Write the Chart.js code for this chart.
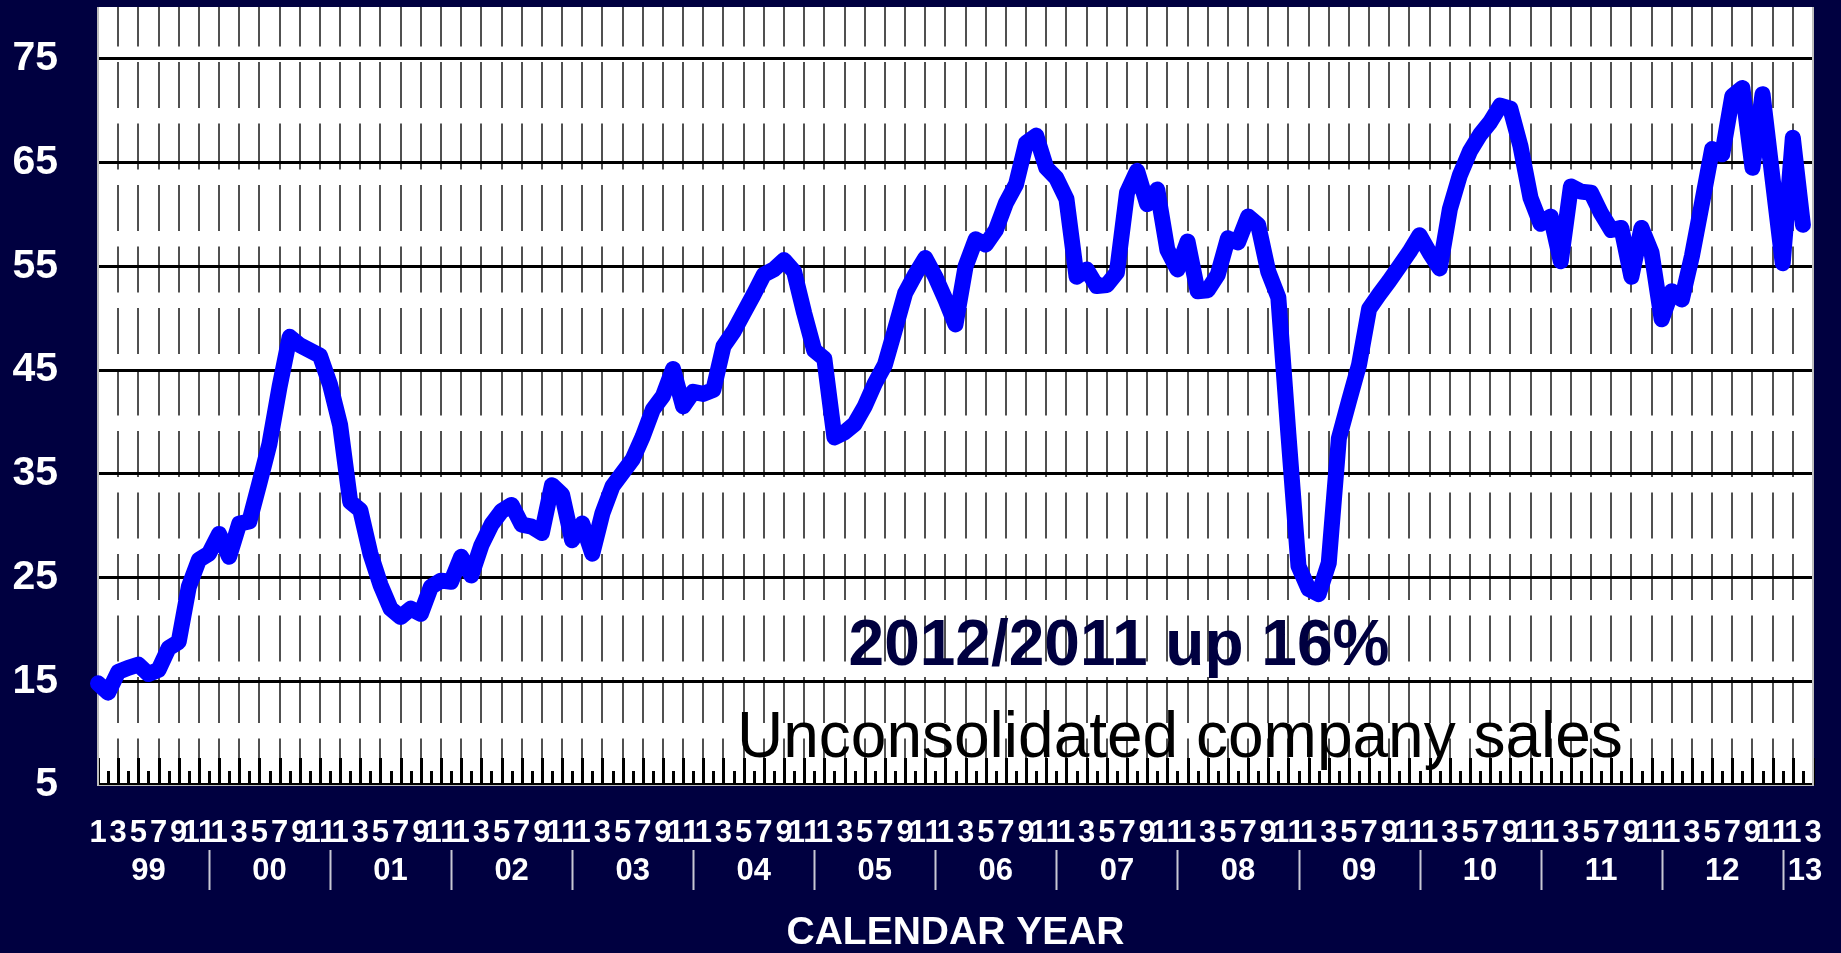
<!DOCTYPE html>
<html>
<head>
<meta charset="utf-8">
<script src="https://cdn.jsdelivr.net/npm/chart.js@4.4.1/dist/chart.umd.min.js"></script>
<style>
html,body{margin:0;padding:0;background:#000040;overflow:hidden}
#wrap{position:relative;width:1841px;height:953px}
canvas{display:block}
</style>
</head>
<body>
<div id="wrap"><canvas id="c" width="1841" height="953"></canvas></div>
<script>
// ---- data ----
const years = ['99','00','01','02','03','04','05','06','07','08','09','10','11','12','13'];
const monthsInYear = [12,12,12,12,12,12,12,12,12,12,12,12,12,12,3];
const yTicks = [5,15,25,35,45,55,65,75];
const sales = [
  14.8,13.9,15.9,16.3,16.6,15.7,16.1,18.2,18.8,24.1,26.7,27.3,   // 1999
  29.2,27.0,30.2,30.4,34.1,37.9,43.4,48.2,47.4,46.9,46.4,43.6,   // 2000
  39.7,32.3,31.5,27.3,24.3,22.0,21.2,22.0,21.5,24.1,24.7,24.6,   // 2001
  27.0,25.2,28.1,30.1,31.4,32.0,30.1,29.9,29.3,33.9,33.0,28.6,   // 2002
  30.2,27.3,31.2,33.8,35.1,36.4,38.6,41.2,42.5,45.1,41.5,42.9,   // 2003
  42.7,43.1,47.3,48.7,50.5,52.3,54.2,54.7,55.6,54.5,50.5,46.9,   // 2004
  46.1,38.5,39.0,39.8,41.5,43.7,45.5,48.9,52.4,54.2,55.8,54.0,   // 2005
  51.8,49.4,55.0,57.6,57.1,58.5,61.1,62.9,66.9,67.6,64.5,63.5,   // 2006
  61.5,54.0,54.7,53.1,53.2,54.4,62.1,64.2,61.0,62.4,56.6,54.7,   // 2007
  57.4,52.6,52.7,54.2,57.7,57.3,59.8,59.0,54.5,52.0,38.8,26.1,   // 2008
  23.9,23.4,26.4,38.4,42.0,45.5,50.9,52.3,53.6,55.0,56.4,58.0,   // 2009
  56.3,54.8,60.5,63.8,66.1,67.7,68.9,70.5,70.2,66.6,61.6,59.1,   // 2010
  59.8,55.5,62.7,62.2,62.1,60.1,58.5,58.7,54.0,58.7,56.3,49.9,   // 2011
  52.6,51.8,56.0,61.1,66.3,65.8,71.4,72.2,64.5,71.6,63.4,55.3,   // 2012
  67.4,59.0                                                      // 2013
];
const headline = '2012/2011 up 16%';
const note = 'Unconsolidated company sales';
const axisTitle = 'CALENDAR YEAR';

// ---- derived categories ----
const categories = [];
const monthOf = [];
years.forEach((y, k) => {
  for (let m = 1; m <= monthsInYear[k]; m++) { categories.push(y + '-' + m); monthOf.push(m); }
});

const NAVY = '#000040';
const FONT = "'Liberation Sans', Arial, sans-serif";

const decor = {
  id: 'decor',
  beforeDraw(chart) {
    const {ctx, chartArea: a} = chart;
    ctx.save();
    ctx.fillStyle = NAVY;
    ctx.fillRect(0, 0, chart.width, chart.height);
    ctx.fillStyle = '#ffffff';
    ctx.fillRect(a.left, a.top, a.right - a.left, a.bottom - a.top);
    ctx.restore();
  },
  beforeDatasetsDraw(chart) {
    const {ctx, chartArea: a, scales: {x}} = chart;
    ctx.save();
    ctx.fillStyle = '#000000';
    for (let i = 0; i < categories.length; i++) {
      const px = x.getPixelForValue(i);
      const h = (i % 2 === 0) ? 27 : 14;
      ctx.fillRect(Math.round(px) - 1, a.bottom - h, 3, h);
    }
    ctx.fillRect(a.left, a.bottom - 2, a.right - a.left, 2);
    // frame
    ctx.fillStyle = '#bdbdbd';
    ctx.fillRect(a.left - 1, a.top, 2, a.bottom - a.top + 1);
    ctx.fillRect(a.right - 1, a.top, 2, a.bottom - a.top + 1);
    ctx.fillRect(a.left - 1, a.bottom, a.right - a.left + 2, 1);
    ctx.restore();
  },
  afterDraw(chart) {
    const {ctx, scales: {x}} = chart;
    ctx.save();
    // annotations
    ctx.textBaseline = 'alphabetic';
    ctx.textAlign = 'center';
    ctx.fillStyle = NAVY;
    ctx.font = 'bold 64px ' + FONT;
    ctx.fillText(headline, 1119, 665);
    ctx.textAlign = 'left';
    ctx.fillStyle = '#000000';
    ctx.font = '64px ' + FONT;
    ctx.fillText(note, 737, 757);
    // year separators and labels
    ctx.strokeStyle = '#c8c8d4';
    ctx.lineWidth = 2;
    let start = 0;
    const sepIdx = [];
    years.forEach((y, k) => {
      const end = start + monthsInYear[k] - 1;
      if (k < years.length - 1) sepIdx.push(end);
      start = end + 1;
    });
    sepIdx.forEach(i => {
      const px = Math.round(x.getPixelForValue(i)) + 0.5;
      ctx.beginPath();
      ctx.moveTo(px, 850);
      ctx.lineTo(px, 890);
      ctx.stroke();
    });
    ctx.fillStyle = '#ffffff';
    ctx.font = 'bold 31px ' + FONT;
    ctx.textBaseline = 'middle';
    start = 0;
    years.forEach((y, k) => {
      const end = start + monthsInYear[k] - 1;
      if (monthsInYear[k] === 12) {
        ctx.textAlign = 'center';
        const cx = (x.getPixelForValue(start - 1) + x.getPixelForValue(end)) / 2;
        ctx.fillText(y, cx, 871);
      } else {
        ctx.textAlign = 'left';
        ctx.fillText(y, x.getPixelForValue(start - 1) + 5, 871);
      }
      start = end + 1;
    });
    ctx.restore();
  }
};

new Chart(document.getElementById('c'), {
  type: 'line',
  data: {
    labels: categories,
    datasets: [{
      data: sales,
      borderColor: '#0000ff',
      borderWidth: 16,
      borderCapStyle: 'round',
      borderJoinStyle: 'round',
      pointRadius: 0,
      pointHoverRadius: 0,
      tension: 0,
      fill: false
    }]
  },
  options: {
    responsive: false,
    animation: false,
    devicePixelRatio: 1,
    layout: {padding: {top: 7, right: 28, left: 0, bottom: 0}},
    plugins: {legend: {display: false}, tooltip: {enabled: false}, title: {display: false}},
    events: [],
    scales: {
      x: {
        type: 'category',
        offset: false,
        afterFit(s) { s.height = 168; s.paddingLeft = 0; s.paddingRight = 0; },
        grid: {
          color: (c) => (c.index % 2 === 0 && c.index > 0) ? '#505050' : 'rgba(0,0,0,0)',
          lineWidth: 2,
          drawTicks: false
        },
        border: {display: false, dash: [46, 15.5], dashOffset: 6.5},
        ticks: {
          autoSkip: false,
          maxRotation: 0,
          minRotation: 0,
          padding: 33,
          color: '#ffffff',
          font: {family: FONT, size: 31, weight: 'bold', lineHeight: 1},
          callback: (v, i) => (monthOf[i] % 2 === 1 ? String(monthOf[i]) : '')
        },
        title: {
          display: true,
          text: axisTitle,
          color: '#ffffff',
          font: {family: FONT, size: 39, weight: 'bold', lineHeight: 1},
          padding: {top: 0, bottom: 0}
        }
      },
      y: {
        type: 'linear',
        min: 5,
        max: 80,
        afterFit(s) { s.width = 98; s.paddingTop = 0; s.paddingBottom = 0; },
        afterBuildTicks(s) { s.ticks = yTicks.map(v => ({value: v})); },
        grid: {
          color: (c) => c.tick && c.tick.value === 5 ? 'rgba(0,0,0,0)' : '#000000',
          lineWidth: 3,
          drawTicks: false
        },
        border: {display: false},
        ticks: {
          padding: 40,
          color: '#ffffff',
          font: {family: FONT, size: 41, weight: 'bold', lineHeight: 1}
        }
      }
    }
  },
  plugins: [decor]
});
</script>
</body>
</html>
